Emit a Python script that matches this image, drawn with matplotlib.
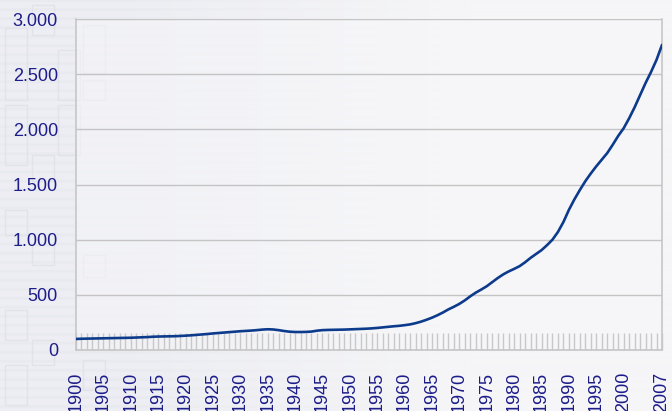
import numpy as np
import matplotlib
matplotlib.use("Agg")
import matplotlib.pyplot as plt
from matplotlib.ticker import FuncFormatter, MultipleLocator, FixedLocator
from matplotlib.patches import Rectangle

years = list(range(1900, 2008))
values = [
    100, 102, 103, 104, 105, 106, 107, 108, 109, 110,
    111, 113, 115, 117, 120, 122, 123, 124, 125, 127,
    130, 133, 137, 141, 145, 150, 154, 158, 162, 166,
    170, 173, 176, 180, 185, 188, 186, 180, 172, 166,
    163, 163, 164, 167, 175, 180, 182, 183, 184, 185,
    187, 189, 191, 193, 196, 200, 205, 210, 215, 219,
    225, 232, 243, 257, 274, 293, 315, 340, 368, 392,
    418, 450, 487, 520, 548, 578, 615, 652, 685, 712,
    735, 760, 795, 835, 870, 905, 950, 1000, 1070, 1160,
    1270, 1365, 1450, 1530, 1600, 1665, 1725, 1785, 1860, 1940,
    2010, 2100, 2200, 2310, 2420, 2520, 2630, 2765,
]
x_tick_labels = [str(y) for y in range(1900, 2001, 5)] + ["2007"]
x_tick_pos = list(range(1900, 2001, 5)) + [2007]
y_ticks = [0, 500, 1000, 1500, 2000, 2500, 3000]

plt.rcParams['font.family'] = ['Liberation Sans', 'DejaVu Sans']
text_color = '#1c1c8a'
line_color = '#0d3b8c'

W, H = 672, 411
fig = plt.figure(figsize=(W / 100, H / 100), dpi=100)

# background gradient with faint horizontal stripes
bg = np.zeros((H, W, 3))
xs = np.linspace(0, 1, W)
left = np.array([237, 238, 243]) / 255
right = np.array([246, 246, 248]) / 255
t = np.clip((xs - 0.2) / 0.5, 0, 1)
for c in range(3):
    bg[:, :, c] = left[c] * (1 - t) + right[c] * t
stripe = np.zeros(H)
stripe[(np.arange(H) % 9) < 3] = 0.012
bg -= stripe[:, None, None] * (1 - t)[None, :, None]
bgax = fig.add_axes([0, 0, 1, 1])
bgax.imshow(bg, aspect='auto', extent=[0, W, H, 0])
for (rx, ry, rw, rh) in [(5, 28, 22, 72), (32, 5, 22, 30), (58, 50, 22, 50),
                         (83, 25, 22, 48), (83, 80, 22, 20),
                         (5, 105, 22, 60), (32, 155, 22, 26), (58, 105, 22, 50),
                         (5, 210, 22, 25), (32, 245, 22, 20), (83, 255, 22, 22),
                         (5, 310, 22, 30), (32, 340, 22, 25),
                         (5, 365, 22, 40), (83, 360, 22, 30)]:
    bgax.add_patch(Rectangle((rx, ry), rw, rh, fill=False, ec='#e2e3e8', lw=1.0))
bgax.set_xlim(0, W)
bgax.set_ylim(H, 0)
bgax.axis('off')

ax = fig.add_axes([76 / W, 1 - 350 / H, (662 - 76) / W, (350 - 19) / H])
ax.set_facecolor((0.97, 0.97, 0.98, 0.55))
ax.plot(years, values, color=line_color, lw=1.9, solid_capstyle='round', zorder=3)

ax.set_xlim(1900, 2007)
ax.set_ylim(0, 3000)
ax.set_yticks(y_ticks)
ax.yaxis.set_major_formatter(FuncFormatter(lambda v, p: f"{int(v):,}".replace(",", ".")))
ax.grid(axis='y', color='#c4c4c4', lw=1.0)
ax.set_axisbelow(True)

ax.xaxis.set_major_locator(FixedLocator(x_tick_pos))
ax.set_xticklabels(x_tick_labels, rotation=90, va='top', ha='center')
ax.xaxis.set_minor_locator(MultipleLocator(1))
ax.tick_params(axis='x', which='both', direction='in', length=12.5, width=1.0,
               color='#c8c8c8', pad=15.5, labelsize=13, labelcolor=text_color)
ax.tick_params(axis='y', length=0, pad=13, labelsize=13, labelcolor=text_color)

for s in ['left', 'bottom', 'right']:
    ax.spines[s].set_color('#c6c6c6')
    ax.spines[s].set_linewidth(1.2)
ax.spines['top'].set_visible(False)

fig.savefig('out.png', dpi=100)
